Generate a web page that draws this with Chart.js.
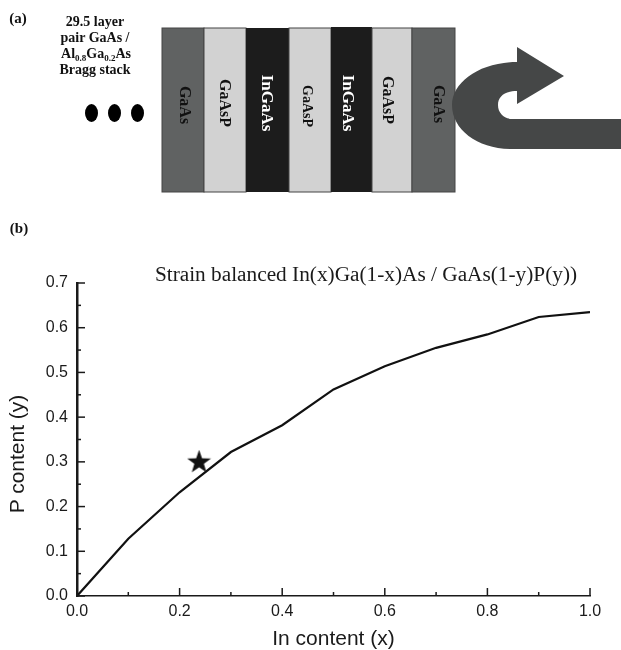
<!DOCTYPE html>
<html>
<head>
<meta charset="utf-8">
<script src="https://cdn.jsdelivr.net/npm/chart.js@4"></script>
<style>
    html, body { margin: 0; padding: 0; background: #fff; }
    #wrap { position: relative; width: 621px; height: 650px; overflow: hidden; }
    #chart { position: absolute; left: 0; top: 0; }
    #stack { position: absolute; left: 0; top: 0; }
    #stack text { font-family: "Liberation Serif", serif; font-weight: bold; fill: #111; text-anchor: middle; }
    #stack text.title { font-weight: normal; fill: #1a1a1a; }
    #stack text.ylabel { font-family: "Liberation Sans", Arial, sans-serif; font-weight: normal; fill: #1a1a1a; }
</style>
</head>
<body>
<div id="wrap">
    <canvas id="chart" width="621" height="650"></canvas>
    <!-- part (a), the layer schematic, plus the two texts chart.js can't place off centre -->
    <svg id="stack" width="621" height="650">
        <text x="18" y="23" font-size="15">(a)</text>
        <text x="19" y="233" font-size="15">(b)</text>

        <text x="95" y="26" font-size="14">29.5 layer</text>
        <text x="95" y="42" font-size="14">pair GaAs /</text>
        <text x="96" y="58" font-size="14">Al<tspan font-size="9" dy="3">0.8</tspan><tspan dy="-3">Ga</tspan><tspan font-size="9" dy="3">0.2</tspan><tspan dy="-3">As</tspan></text>
        <text x="95" y="74" font-size="14">Bragg stack</text>

        <ellipse cx="91.5" cy="113" rx="6.5" ry="9" fill="#000"/>
        <ellipse cx="114.5" cy="113" rx="6.5" ry="9" fill="#000"/>
        <ellipse cx="137.5" cy="113" rx="6.5" ry="9" fill="#000"/>

        <rect x="162" y="28" width="42" height="164" fill="#606262" stroke="#444" stroke-width="1"/>
        <rect x="204" y="28" width="42" height="164" fill="#d2d2d2" stroke="#444" stroke-width="1"/>
        <rect x="246" y="28" width="43" height="164" fill="#1c1c1c"/>
        <rect x="289" y="28" width="42" height="164" fill="#d2d2d2" stroke="#444" stroke-width="1"/>
        <rect x="331" y="27" width="41" height="165" fill="#1c1c1c"/>
        <rect x="372" y="28" width="40" height="164" fill="#d2d2d2" stroke="#444" stroke-width="1"/>
        <rect x="412" y="28" width="43" height="164" fill="#606262" stroke="#444" stroke-width="1"/>

        <text transform="translate(185 105) rotate(90)" dy="5" font-size="16">GaAs</text>
        <text transform="translate(225 103) rotate(90)" dy="5" font-size="16">GaAsP</text>
        <text transform="translate(267 103) rotate(90)" dy="5" font-size="17" style="fill:#fff">InGaAs</text>
        <text transform="translate(308 106) rotate(90)" dy="5" font-size="14">GaAsP</text>
        <text transform="translate(348 103) rotate(90)" dy="5" font-size="17" style="fill:#fff">InGaAs</text>
        <text transform="translate(388 100) rotate(90)" dy="5" font-size="16">GaAsP</text>
        <text transform="translate(439 104) rotate(90)" dy="5" font-size="16">GaAs</text>

        <path d="M621 149 L512 149 C478 149 452 130 452 105 C452 82 480 62 517 62 L517 47 L564 76 L517 104 L517 91 C505 91 498 96 498 105 C498 113 504 119 512 119 L621 119 Z" fill="#454747"/>

        <text class="title" x="366" y="281" font-size="21.3">Strain balanced In(x)Ga(1-x)As / GaAs(1-y)P(y))</text>
        <text class="ylabel" transform="translate(24 454) rotate(-90)" font-size="21">P content (y)</text>
    </svg>
</div>

<script>
const inContent = [0.0, 0.1, 0.2, 0.3, 0.4, 0.5, 0.6, 0.7, 0.8, 0.9, 1.0]
const pContent = [0.0, 0.128, 0.232, 0.322, 0.382, 0.462, 0.514, 0.555, 0.585, 0.624, 0.635]
const starIn = [0.238]
const starP = [0.299]
const xMajorTicks = [0.0, 0.2, 0.4, 0.6, 0.8, 1.0]
const xMinorTicks = [0.1, 0.3, 0.5, 0.7, 0.9]
const yMajorTicks = [0.0, 0.1, 0.2, 0.3, 0.4, 0.5, 0.6, 0.7]
const yMinorTicks = [0.05, 0.15, 0.25, 0.35, 0.45, 0.55, 0.65]

const INK = '#1a1a1a'
const SANS = '"Liberation Sans", Arial, sans-serif'

// filled five point star, chart.js own 'star' style is only strokes
const makeStar = (size) => {
    const c = document.createElement('canvas')
    c.width = size
    c.height = size
    const g = c.getContext('2d')
    const r = size / 2
    g.fillStyle = '#111'
    g.beginPath()
    for (let i = 0; i < 10; i++) {
        const rad = i % 2 == 0 ? r : r * 0.4
        const a = -Math.PI / 2 + i * Math.PI / 5
        g.lineTo(r + rad * Math.cos(a), r + rad * Math.sin(a))
    }
    g.closePath()
    g.fill()
    return c
}

// ticks point into the plot and the minor ones are shorter
const inwardTicks = {
    id: 'inwardTicks',
    afterDatasetsDraw(chart) {
        const { ctx, scales: { x, y } } = chart
        const x0 = x.left
        const y0 = y.bottom
        const drawX = (val, len) => {
            const px = x.getPixelForValue(val)
            ctx.beginPath()
            ctx.moveTo(px, y0)
            ctx.lineTo(px, y0 - len)
            ctx.stroke()
        }
        const drawY = (val, len) => {
            const py = y.getPixelForValue(val)
            ctx.beginPath()
            ctx.moveTo(x0, py)
            ctx.lineTo(x0 + len, py)
            ctx.stroke()
        }
        ctx.save()
        ctx.strokeStyle = INK
        ctx.lineWidth = 1.5
        xMajorTicks.forEach(v => drawX(v, 8))
        xMinorTicks.forEach(v => drawX(v, 4))
        yMajorTicks.forEach(v => drawY(v, 8))
        yMinorTicks.forEach(v => drawY(v, 4))
        ctx.restore()
    }
}

new Chart(document.querySelector('#chart').getContext('2d'), {
    type: 'scatter',
    data: {
        datasets: [
            {
                label: 'Strain balanced',
                data: inContent.map((v, i) => ({ x: v, y: pContent[i] })),
                showLine: true,
                borderColor: '#111',
                borderWidth: 2.2,
                pointRadius: 0,
                tension: 0
            },
            {
                label: 'Sample',
                data: starIn.map((v, i) => ({ x: v, y: starP[i] })),
                pointStyle: makeStar(25),
                pointRadius: 12
            }
        ]
    },
    options: {
        responsive: false,
        animation: false,
        layout: { padding: { top: 283, right: 31, left: 4, bottom: -2 } },
        plugins: {
            legend: { display: false },
            tooltip: { enabled: false }
        },
        scales: {
            x: {
                type: 'linear',
                min: 0,
                max: 1,
                afterFit: (s) => { s.height = 56 },
                grid: { display: false, drawTicks: false },
                border: { color: INK, width: 1.5 },
                ticks: {
                    stepSize: 0.2,
                    padding: 6,
                    color: INK,
                    maxRotation: 0,
                    font: { family: SANS, size: 16 },
                    callback: (v) => v.toFixed(1)
                },
                title: { display: true, text: 'In content (x)', color: INK, font: { family: SANS, size: 21 }, padding: { top: 5, bottom: 0 } }
            },
            y: {
                type: 'linear',
                min: 0,
                max: 0.7,
                afterFit: (s) => { s.width = 73 },
                grid: { display: false, drawTicks: false },
                border: { color: INK, width: 2.5 },
                ticks: {
                    stepSize: 0.1,
                    padding: 9,
                    color: INK,
                    font: { family: SANS, size: 16 },
                    callback: (v) => v.toFixed(1)
                }
            }
        }
    },
    plugins: [inwardTicks]
})
</script>
</body>
</html>
